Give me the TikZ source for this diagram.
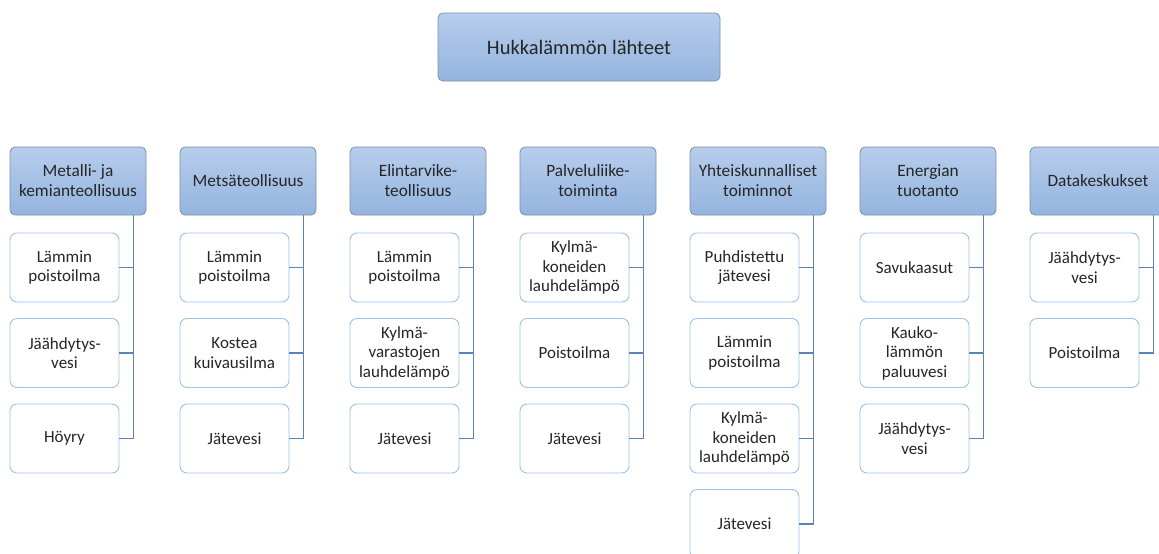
\documentclass[tikz,border=0pt]{standalone}
\usepackage{fontspec}
\setmainfont{Carlito}
\definecolor{cattop}{HTML}{B7CDEB}
\definecolor{catbot}{HTML}{94B4DF}
\definecolor{catedge}{HTML}{7C90AA}
\definecolor{leafedge}{HTML}{9CC2E8}
\definecolor{linkcol}{HTML}{5B83B5}
\definecolor{txt}{HTML}{262626}
\begin{document}
\begin{tikzpicture}[x=1pt,y=-1pt,
  rootbox/.style={draw=catedge, line width=0.8pt, rounded corners=5pt,
    top color=cattop, bottom color=catbot, minimum width=282pt, minimum height=68pt,
    inner sep=0pt, font=\fontsize{20.5}{24}\selectfont, text=txt},
  catbox/.style={draw=catedge, line width=0.8pt, rounded corners=5pt,
    top color=cattop, bottom color=catbot, minimum width=136pt, minimum height=68pt,
    inner sep=0pt, align=center, font=\fontsize{17.3}{20}\selectfont, text=txt},
  leafbox/.style={draw=leafedge, line width=0.9pt, rounded corners=7pt, fill=white,
    minimum width=109pt, minimum height=69pt,
    inner sep=0pt, align=center, font=\fontsize{17}{19.5}\selectfont, text=txt},
  link/.style={draw=linkcol, line width=1.1pt}]
\clip (0,0) rectangle (1159,554);
\fill[white] (0,0) rectangle (1159,554);

% top of the hierarchy
\node[rootbox] (root) at (579,47) {Hukkalämmön lähteet};

% category row
\node[catbox] (c1) at (78,181)   {Metalli- ja\\kemianteollisuus};
\node[catbox] (c2) at (248,181)  {Metsäteollisuus};
\node[catbox] (c3) at (418,181)  {Elintarvike-\\teollisuus};
\node[catbox] (c4) at (588,181)  {Palveluliike-\\toiminta};
\node[catbox] (c5) at (758,181)  {Yhteiskunnalliset\\toiminnot};
\node[catbox] (c6) at (928,181)  {Energian\\tuotanto};
\node[catbox] (c7) at (1098,181) {Datakeskukset};

% sources under each category
\node[leafbox] (c1a) at (64.5,267.5) {Lämmin\\poistoilma};
\node[leafbox] (c1b) at (64.5,353)   {Jäähdytys-\\vesi};
\node[leafbox] (c1c) at (64.5,438.5) {Höyry};

\node[leafbox] (c2a) at (234.5,267.5) {Lämmin\\poistoilma};
\node[leafbox] (c2b) at (234.5,353)   {Kostea\\kuivausilma};
\node[leafbox] (c2c) at (234.5,438.5) {Jätevesi};

\node[leafbox] (c3a) at (404.5,267.5) {Lämmin\\poistoilma};
\node[leafbox] (c3b) at (404.5,353)   {Kylmä-\\varastojen\\lauhdelämpö};
\node[leafbox] (c3c) at (404.5,438.5) {Jätevesi};

\node[leafbox] (c4a) at (574.5,267.5) {Kylmä-\\koneiden\\lauhdelämpö};
\node[leafbox] (c4b) at (574.5,353)   {Poistoilma};
\node[leafbox] (c4c) at (574.5,438.5) {Jätevesi};

\node[leafbox] (c5a) at (744.5,267.5) {Puhdistettu\\jätevesi};
\node[leafbox] (c5b) at (744.5,353)   {Lämmin\\poistoilma};
\node[leafbox] (c5c) at (744.5,438.5) {Kylmä-\\koneiden\\lauhdelämpö};
\node[leafbox] (c5d) at (744.5,524)   {Jätevesi};

\node[leafbox] (c6a) at (914.5,267.5) {Savukaasut};
\node[leafbox] (c6b) at (914.5,353)   {Kauko-\\lämmön\\paluuvesi};
\node[leafbox] (c6c) at (914.5,438.5) {Jäähdytys-\\vesi};

\node[leafbox] (c7a) at (1084.5,267.5) {Jäähdytys-\\vesi};
\node[leafbox] (c7b) at (1084.5,353)   {Poistoilma};

% elbow connectors from each category down its right side
\foreach \c/\list in {c1/{a,b,c}, c2/{a,b,c}, c3/{a,b,c}, c4/{a,b,c},
                      c5/{a,b,c,d}, c6/{a,b,c}, c7/{a,b}} {
  \foreach \k in \list {
    \draw[link] ([xshift=-13pt]\c.south east) |- (\c\k.east);
  }
}
\end{tikzpicture}
\end{document}
